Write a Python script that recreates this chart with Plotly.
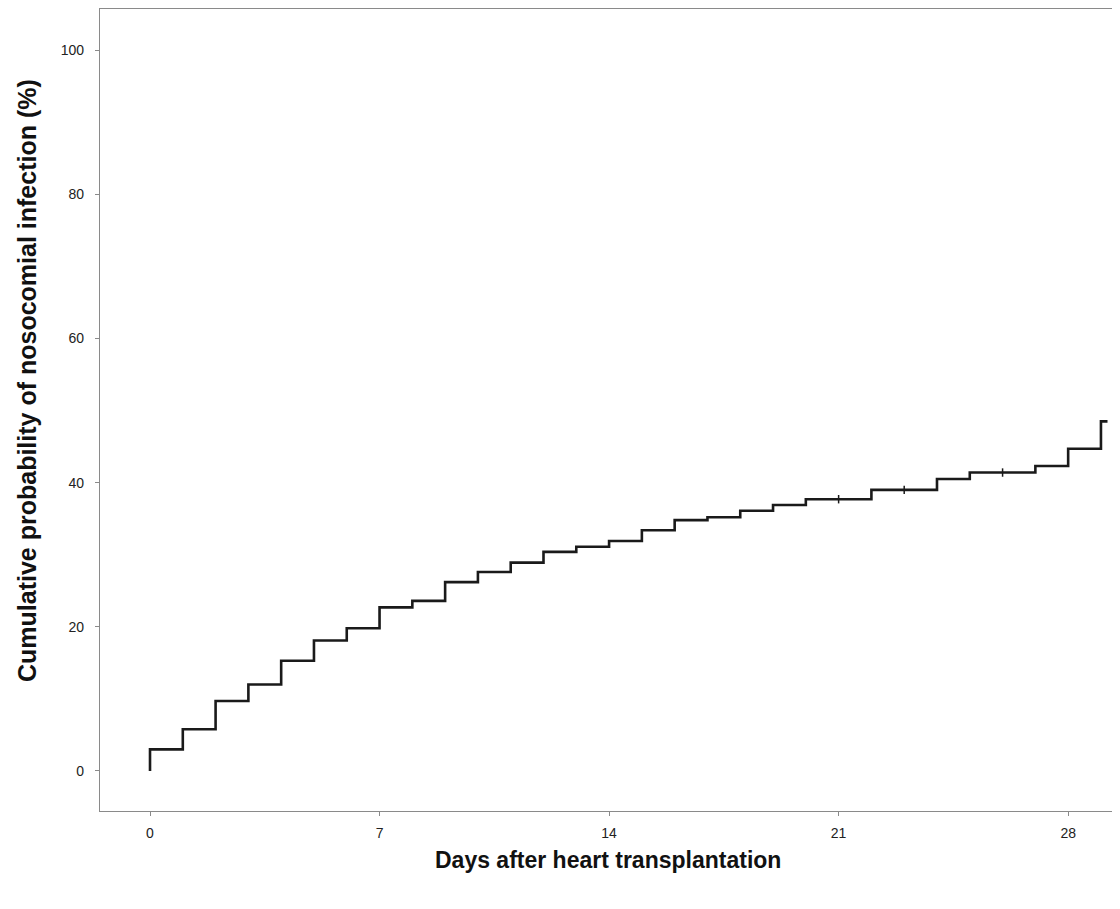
import plotly.graph_objects as go

# Step times (days) and cumulative probability (%) after each step
step_days = [0, 1, 2, 3, 4, 5, 6, 7, 8, 9, 10, 11, 12, 13, 14, 15, 16, 17, 18, 19, 20, 22, 24, 25, 27, 28, 29]
cum_prob = [3.0, 5.8, 9.7, 12.0, 15.3, 18.1, 19.8, 22.7, 23.6, 26.2, 27.6, 28.9, 30.4, 31.1, 31.9, 33.4, 34.8, 35.2, 36.1, 36.9, 37.7, 39.0, 40.5, 41.4, 42.3, 44.7, 48.5]
end_day = 29.2
censor_days = [21, 23, 26]
censor_vals = [37.7, 39.0, 41.4]

x_ticks = [0, 7, 14, 21, 28]
y_ticks = [0, 20, 40, 60, 80, 100]

xs = [0] + step_days + [end_day]
ys = [0] + cum_prob + [cum_prob[-1]]

fig = go.Figure()
fig.add_trace(go.Scatter(
    x=xs, y=ys, mode="lines", line=dict(shape="hv", color="#1a1a1a", width=2.6),
    showlegend=False, hoverinfo="skip"))
fig.add_trace(go.Scatter(
    x=censor_days, y=censor_vals, mode="markers",
    marker=dict(symbol="line-ns", size=6, line=dict(color="#1a1a1a", width=1.5)),
    showlegend=False, hoverinfo="skip"))

font_family = "Liberation Sans, Arial, sans-serif"
# page body has an 8px default margin; figure sized to compensate
fig.update_layout(
    width=1112, height=901,
    margin=dict(l=92, r=2, t=1, b=98, autoexpand=False),
    paper_bgcolor="white", plot_bgcolor="white",
    font=dict(family=font_family, color="#333333"),
    xaxis=dict(
        range=[-1.525, 29.52], tickvals=x_ticks, ticktext=[str(v) for v in x_ticks],
        showgrid=False, zeroline=False, showline=True, mirror=True, automargin=False,
        linecolor="#8a8a8a", linewidth=1.2, ticks="outside", ticklen=4,
        tickcolor="#8a8a8a", tickfont=dict(size=14, color="#222222"),
        ticklabelstandoff=5,
    ),
    yaxis=dict(
        range=[-5.55, 105.7], tickvals=y_ticks, ticktext=[str(v) for v in y_ticks],
        showgrid=False, zeroline=False, showline=True, mirror=True, automargin=False,
        linecolor="#8a8a8a", linewidth=1.2, ticks="outside", ticklen=4,
        tickcolor="#8a8a8a", tickfont=dict(size=14, color="#222222"),
        ticklabelstandoff=8,
    ),
    annotations=[
        dict(text="<b>Days after heart transplantation</b>", xref="paper", yref="paper",
             x=(608 - 100) / (1118 - 100), y=-(860 - 811) / (811 - 9), xanchor="center", yanchor="middle",
             showarrow=False, font=dict(size=23, color="#111111")),
        dict(text="<b>Cumulative probability of nosocomial infection (%)</b>", xref="paper", yref="paper",
             x=-(100 - 27) / (1118 - 100), y=(811 - 381) / (811 - 9), xanchor="center", yanchor="middle",
             textangle=-90, showarrow=False, font=dict(size=25, color="#111111")),
    ],
)

fig.write_html("out.html")
